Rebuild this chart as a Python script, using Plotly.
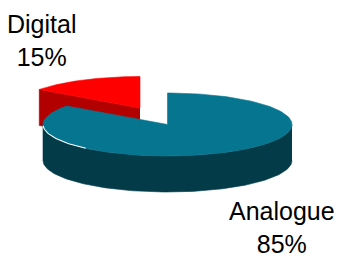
import numpy as np
import plotly.graph_objects as go

# ---- data ----
labels = ["Analogue", "Digital"]
values = [85, 15]
pct_text = ["85%", "15%"]
top_colors = ["#06758F", "#FF0000"]
side_colors = ["#033B49", "#B20000"]

W, H = 338, 258
cx, cy, rx, ry, depth = 167.5, 124.5, 124.5, 31.5, 36
offsets = [(0.0, 0.0), (-27.5, -16.5)]  # exploded slice offset (px)


def pts(thetas, ox=0.0, oy=0.0, dz=0.0):
    t = np.radians(np.asarray(thetas, dtype=float))
    return cx + ox + rx * np.sin(t), cy + oy - ry * np.cos(t) + dz


fig = go.Figure()


def poly(xs, ys, color):
    fig.add_trace(go.Scatter(x=list(xs), y=list(ys), mode="lines", fill="toself",
                             fillcolor=color, line=dict(color=color, width=0.6),
                             hoverinfo="skip", showlegend=False))


total = float(sum(values))
slices = []
start = 0.0
for i, v in enumerate(values):
    a0 = start
    a1 = start + 360.0 * v / total
    start = a1
    mid = (a0 + a1) / 2
    slices.append((i, a0, a1, mid))

# painter's order: back slices first
slices.sort(key=lambda s: -np.cos(np.radians(s[3])))

for i, a0, a1, mid in slices:
    ox, oy = offsets[i]
    ax, ay = cx + ox, cy + oy
    # cut face at a0
    if np.cos(np.radians(a0 - 90)) < -1e-6:
        x0, y0 = pts([a0], ox, oy)
        poly([ax, x0[0], x0[0], ax], [ay, y0[0], y0[0] + depth, ay + depth], side_colors[i])
    # cut face at a1
    if np.cos(np.radians(a1 + 90)) < -1e-6:
        x1, y1 = pts([a1], ox, oy)
        poly([ax, x1[0], x1[0], ax], [ay, y1[0], y1[0] + depth, ay + depth], side_colors[i])
    # outer side (front half only)
    s0, s1 = max(a0, 90.0), min(a1, 270.0)
    if s1 > s0:
        th = np.linspace(s0, s1, 120)
        xt, yt = pts(th, ox, oy)
        xb, yb = pts(th[::-1], ox, oy, depth)
        poly(np.concatenate([xt, xb]), np.concatenate([yt, yb]), side_colors[i])
    # top face
    th = np.linspace(a0, a1, 200)
    xt, yt = pts(th, ox, oy)
    poly(np.concatenate([[ax], xt, [ax]]), np.concatenate([[ay], yt, [ay]]), top_colors[i])
    if i == 0:
        th = np.linspace(221, 268, 50)
        xw, yw = pts(th, ox, oy)
        fig.add_trace(go.Scatter(x=xw, y=yw, mode="lines", line=dict(color="white", width=1.1),
                                 hoverinfo="skip", showlegend=False))

label_pos = [(282, 227.5), (41, 40.5)]
for i, lab in enumerate(labels):
    fig.add_annotation(x=label_pos[i][0], y=label_pos[i][1], xref="x", yref="y",
                       text=f"{lab}<br>{pct_text[i]}", showarrow=False,
                       xanchor="center", yanchor="middle", align="center",
                       font=dict(family="Liberation Sans, Arial", size=25, color="black"))

fig.update_layout(width=W, height=H, margin=dict(l=0, r=0, t=0, b=0),
                  paper_bgcolor="white", plot_bgcolor="white",
                  xaxis=dict(range=[0, W], visible=False, fixedrange=True),
                  yaxis=dict(range=[H, 0], visible=False, fixedrange=True))

fig.write_html("out.html", config={"displayModeBar": False},
               post_script="document.body.style.margin='0';")
